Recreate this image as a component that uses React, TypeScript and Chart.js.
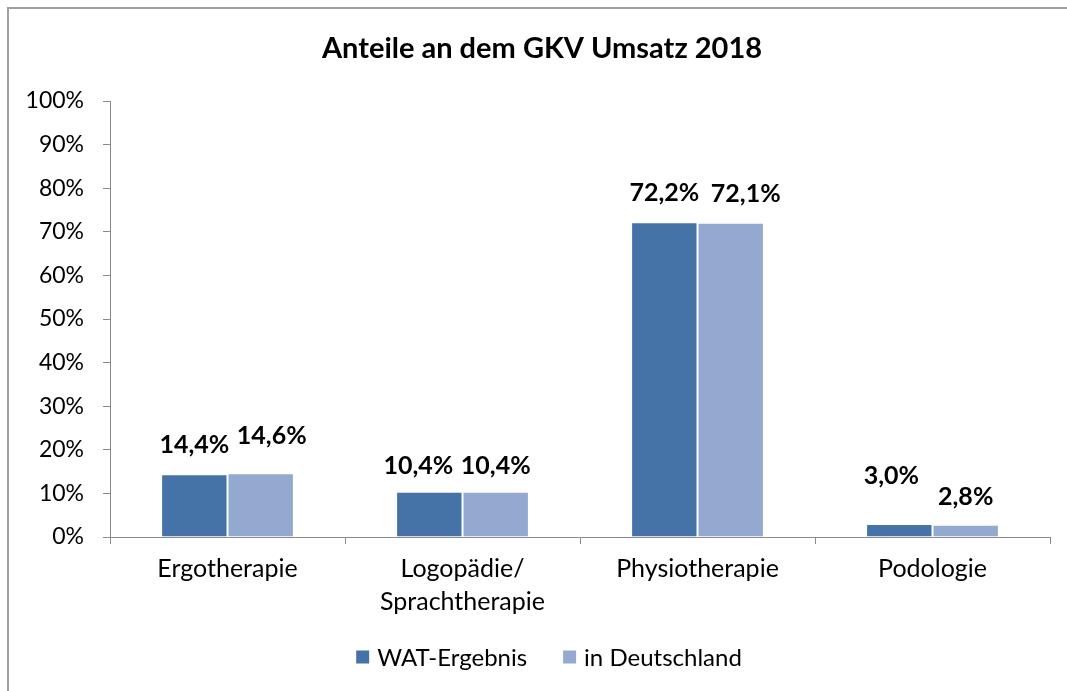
import React, { useEffect, useRef } from "react";
import { Chart, registerables } from "chart.js";

Chart.register(...registerables);

const chartTitle = "Anteile an dem GKV Umsatz 2018";
const categories: (string | string[])[] = [
  "Ergotherapie",
  ["Logopädie/", "Sprachtherapie"],
  "Physiotherapie",
  "Podologie",
];
const seriesNames = ["WAT-Ergebnis", "in Deutschland"];
const watValues = [14.4, 10.4, 72.2, 3.0];
const deValues = [14.6, 10.4, 72.1, 2.8];
const seriesColors = ["#4572A7", "#93A9CF"];
const yMax = 100;
const yStep = 10;

// label nudges (Excel places some labels off-centre to avoid overlap)
const labelShiftX = [
  [0, 11],
  [-11, 0],
  [0, 15],
  [-8, 0],
];
const labelShiftY = [
  [1, 9],
  [-2, -2],
  [1, 1],
  [20, 0],
];

const FONT = "Lato, 'Open Sans', sans-serif";
const AXIS_COLOR = "#8a8a8a";

const fmt = (v: number) => v.toFixed(1).replace(".", ",") + "%";

const decorPlugin = {
  id: "decor",
  afterDatasetsDraw(chart: any) {
    const ctx = chart.ctx as CanvasRenderingContext2D;
    ctx.save();
    ctx.font = `bold 25px ${FONT}`;
    ctx.fillStyle = "#000";
    ctx.textAlign = "center";
    ctx.textBaseline = "middle";
    chart.data.datasets.forEach((ds: any, di: number) => {
      const meta = chart.getDatasetMeta(di);
      meta.data.forEach((bar: any, i: number) => {
        const v = ds.data[i] as number;
        ctx.fillText(fmt(v), bar.x + labelShiftX[i][di], bar.y - 28 - labelShiftY[i][di]);
      });
    });
    ctx.restore();
  },
  afterDraw(chart: any) {
    const ctx = chart.ctx as CanvasRenderingContext2D;
    ctx.save();
    // title
    ctx.font = `bold 29px ${FONT}`;
    ctx.fillStyle = "#000";
    ctx.textAlign = "center";
    ctx.textBaseline = "middle";
    ctx.fillText(chartTitle, 533, 40);

    // legend
    ctx.font = `24px ${FONT}`;
    const box = 13;
    const gapBoxText = 8;
    const gapItems = 36;
    const widths = seriesNames.map((n) => box + gapBoxText + ctx.measureText(n).width);
    const total = widths.reduce((a, b) => a + b, 0) + gapItems * (seriesNames.length - 1);
    let x = 540 - total / 2;
    const y = 648;
    ctx.textAlign = "left";
    seriesNames.forEach((n, i) => {
      ctx.fillStyle = seriesColors[i];
      ctx.fillRect(x, y - box / 2, box, box);
      ctx.fillStyle = "#000";
      ctx.fillText(n, x + box + gapBoxText, y + 1);
      x += widths[i] + gapItems;
    });
    ctx.restore();
  },
};

export default function App() {
  const ref = useRef<HTMLCanvasElement>(null);

  useEffect(() => {
    if (!ref.current) return;
    Chart.defaults.font.family = FONT;
    const chart = new Chart(ref.current, {
      type: "bar",
      data: {
        labels: categories,
        datasets: [
          {
            label: seriesNames[0],
            data: watValues,
            backgroundColor: seriesColors[0],
            borderColor: "#ffffff",
            borderWidth: 1,
            categoryPercentage: 0.565,
            barPercentage: 1,
          },
          {
            label: seriesNames[1],
            data: deValues,
            backgroundColor: seriesColors[1],
            borderColor: "#ffffff",
            borderWidth: 1,
            categoryPercentage: 0.565,
            barPercentage: 1,
          },
        ],
      },
      options: {
        animation: false,
        responsive: false,
        devicePixelRatio: 1,
        layout: { padding: { top: 92, right: 17, bottom: 0, left: 0 } },
        plugins: {
          legend: { display: false },
          title: { display: false },
          tooltip: { enabled: false },
        },
        scales: {
          x: {
            grid: {
              display: true,
              drawOnChartArea: false,
              drawTicks: true,
              tickLength: 7,
              color: AXIS_COLOR,
              offset: true,
            },
            border: { display: true, color: AXIS_COLOR, width: 1 },
            ticks: {
              color: "#000",
              font: { size: 25, family: FONT, lineHeight: 1.32 },
              padding: 8,
              maxRotation: 0,
              autoSkip: false,
            },
            afterFit: (s: any) => {
              s.height = 154;
            },
          },
          y: {
            min: 0,
            max: yMax,
            grid: {
              display: true,
              drawOnChartArea: false,
              drawTicks: true,
              tickLength: 7,
              color: AXIS_COLOR,
            },
            border: { display: true, color: AXIS_COLOR, width: 1 },
            ticks: {
              stepSize: yStep,
              color: "#000",
              font: { size: 23, family: FONT },
              padding: 19,
              callback: (v: any) => `${v}%`,
            },
            afterFit: (s: any) => {
              s.width = 101;
            },
          },
        },
      },
      plugins: [decorPlugin],
    });
    if ((document as any).fonts && (document as any).fonts.load) {
      Promise.all([
        (document as any).fonts.load(`22px Lato`),
        (document as any).fonts.load(`bold 22px Lato`),
      ]).then(() => {
        try {
          chart.update();
        } catch (e) {}
      });
    }
    return () => chart.destroy();
  }, []);

  return (
    <div
      style={{
        position: "fixed",
        left: 7,
        top: 7,
        width: 1100,
        height: 720,
        borderTop: "2px solid #a0a0a0",
        borderLeft: "2px solid #a0a0a0",
        background: "#fff",
      }}
    >
      <canvas ref={ref} width={1058} height={682} style={{ display: "block", width: 1058, height: 682 }} />
    </div>
  );
}
